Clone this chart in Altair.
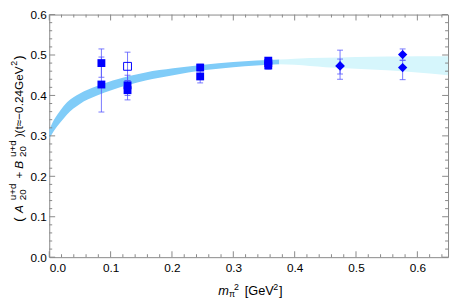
import altair as alt
import pandas as pd

# ---- data ----
band_dark_x = [0.0, 0.003, 0.0075, 0.018, 0.029, 0.05, 0.077, 0.1035, 0.157, 0.202, 0.251, 0.3, 0.375]
band_dark_lo = [0.293, 0.301, 0.312, 0.333, 0.353, 0.379, 0.399, 0.414, 0.437, 0.450, 0.462, 0.470, 0.477]
band_dark_hi = [0.315, 0.325, 0.339, 0.363, 0.383, 0.405, 0.423, 0.437, 0.457, 0.467, 0.476, 0.483, 0.489]

band_light_x = [0.375, 0.4, 0.45, 0.5, 0.55, 0.6, 0.65]
band_light_lo = [0.477, 0.476, 0.470, 0.466, 0.462, 0.457, 0.450]
band_light_hi = [0.489, 0.491, 0.493, 0.495, 0.496, 0.497, 0.497]

sq_x = [0.085, 0.085, 0.1276, 0.1276, 0.246, 0.246, 0.357, 0.357, 0.357]
sq_y = [0.480, 0.427, 0.425, 0.413, 0.469, 0.447, 0.486, 0.480, 0.474]
sq_lo = [0.445, 0.359, 0.400, 0.389, 0.461, 0.431, 0.479, 0.472, 0.465]
sq_hi = [0.515, 0.495, 0.450, 0.437, 0.477, 0.463, 0.493, 0.488, 0.483]

open_x = [0.1276]
open_y = [0.472]
open_lo = [0.437]
open_hi = [0.507]

dia_x = [0.474, 0.474, 0.576, 0.576]
dia_y = [0.473, 0.473, 0.501, 0.469]
dia_lo = [0.453, 0.440, 0.487, 0.439]
dia_hi = [0.490, 0.512, 0.515, 0.487]

x_major = [0.0, 0.1, 0.2, 0.3, 0.4, 0.5, 0.6]
y_major = [0.0, 0.1, 0.2, 0.3, 0.4, 0.5, 0.6]
x_minor = [round(0.02 * i, 2) for i in range(1, 33) if i % 5 != 0]
y_minor = [round(0.02 * i, 2) for i in range(1, 30) if i % 5 != 0]

W, H = 406, 247
FONT = "Liberation Sans"
BLUE = "#0000FF"

xs = alt.Scale(domain=[0, 0.65], nice=False, zero=False)
ys = alt.Scale(domain=[0, 0.6], nice=False, zero=False)

dark = pd.DataFrame({"x": band_dark_x, "lo": band_dark_lo, "hi": band_dark_hi})
light = pd.DataFrame({"x": band_light_x, "lo": band_light_lo, "hi": band_light_hi})
sq = pd.DataFrame({"x": sq_x, "y": sq_y, "lo": sq_lo, "hi": sq_hi})
op = pd.DataFrame({"x": open_x, "y": open_y, "lo": open_lo, "hi": open_hi})
dia = pd.DataFrame({"x": dia_x, "y": dia_y, "lo": dia_lo, "hi": dia_hi})
allpts = pd.concat([sq, op, dia], ignore_index=True)

xaxis = alt.Axis(values=x_major, format=".1f", ticks=False, domain=False, grid=False,
                 labelFont=FONT, labelFontSize=12, labelColor="black", labelPadding=6,
                 title=None)
yaxis = alt.Axis(values=y_major, format=".1f", ticks=False, domain=False, grid=False,
                 labelFont=FONT, labelFontSize=12, labelColor="black", labelPadding=3,
                 title=None)


def X(f):
    return alt.X(f, scale=xs, axis=xaxis)


def Y(f):
    return alt.Y(f, scale=ys, axis=yaxis)


dark_band = alt.Chart(dark).mark_area(color="#80CCF8", opacity=1, interpolate="monotone").encode(
    x=X("x:Q"), y=Y("hi:Q"), y2="lo:Q",
)
light_band = alt.Chart(light).mark_area(color="#D6F6FC", opacity=1, interpolate="monotone").encode(
    x=X("x:Q"), y=Y("hi:Q"), y2="lo:Q",
)

ERR = "#5555FF"
err = alt.Chart(allpts).mark_rule(color=ERR, strokeWidth=1, opacity=0.8).encode(
    x=X("x:Q"), y=Y("lo:Q"), y2="hi:Q",
)
cap_hi = alt.Chart(allpts).mark_tick(color=ERR, orient="horizontal", size=6, thickness=1, opacity=0.8).encode(
    x=X("x:Q"), y=Y("hi:Q"),
)
cap_lo = alt.Chart(allpts).mark_tick(color=ERR, orient="horizontal", size=6, thickness=1, opacity=0.8).encode(
    x=X("x:Q"), y=Y("lo:Q"),
)

sq_pts = alt.Chart(sq).mark_point(shape="square", filled=True, color=BLUE, size=64, opacity=1).encode(
    x=X("x:Q"), y=Y("y:Q"),
)
op_pts = alt.Chart(op).mark_point(shape="square", filled=False, color=BLUE, size=64, strokeWidth=1, opacity=1).encode(
    x=X("x:Q"), y=Y("y:Q"),
)
dia_pts = alt.Chart(dia).mark_point(shape="diamond", filled=True, color=BLUE, size=90, opacity=1).encode(
    x=X("x:Q"), y=Y("y:Q"),
)

TICK = "#888888"


def xticks(vals, ln):
    d = pd.DataFrame({"v": vals})
    b = alt.Chart(d).mark_rule(color=TICK, strokeWidth=1).encode(
        x=X("v:Q"), y=alt.value(H), y2=alt.value(H - ln))
    t = alt.Chart(d).mark_rule(color=TICK, strokeWidth=1).encode(
        x=X("v:Q"), y=alt.value(0), y2=alt.value(ln))
    return [b, t]


def yticks(vals, ln):
    d = pd.DataFrame({"v": vals})
    l = alt.Chart(d).mark_rule(color=TICK, strokeWidth=1).encode(
        y=Y("v:Q"), x=alt.value(0), x2=alt.value(ln))
    r = alt.Chart(d).mark_rule(color=TICK, strokeWidth=1).encode(
        y=Y("v:Q"), x=alt.value(W), x2=alt.value(W - ln))
    return [l, r]


tick_layers = xticks(x_major, 6) + xticks(x_minor, 3) + yticks(y_major, 6) + yticks(y_minor, 3)

dummy = pd.DataFrame({"a": [0]})


def txt(s, x, y, size=12, italic=False, angle=0, dx=0, dy=0):
    kw = dict(text=s, font=FONT, fontSize=size, color="black", align="left",
              baseline="alphabetic", dx=dx, dy=dy)
    if italic:
        kw["fontStyle"] = "italic"
    if angle:
        kw["angle"] = angle
    return alt.Chart(dummy).mark_text(**kw).encode(x=alt.value(x), y=alt.value(y))


# x title: m_pi^2 [GeV^2]
xt_y = H + 38
x_title = [
    txt("m", 172, xt_y, size=13, italic=True),
    txt("π", 183, xt_y, size=9, dy=3),
    txt("2", 188, xt_y, size=9, dy=-5),
    txt("[GeV", 199, xt_y, size=13),
    txt("2", 228, xt_y, size=9, dy=-5),
    txt("]", 234, xt_y, size=13),
]

# y title: (A_20^{u+d} + B_20^{u+d})(t≈−0.24GeV^2), rotated
ax, ay = -27, 211
y_title = [
    txt("(", ax, ay, size=13, angle=270, dx=0),
    txt("A", ax, ay, angle=270, dx=9, italic=True),
    txt("20", ax, ay, size=10, angle=270, dx=22, dy=3),
    txt("u+d", ax, ay, size=10, angle=270, dx=22, dy=-7),
    txt("+", ax, ay, angle=270, dx=44),
    txt("B", ax, ay, angle=270, dx=54, italic=True),
    txt("20", ax, ay, size=10, angle=270, dx=66, dy=3),
    txt("u+d", ax, ay, size=10, angle=270, dx=66, dy=-7),
    txt(")(t≈−0.24GeV", ax, ay, angle=270, dx=86),
    txt("2", ax, ay, size=9, angle=270, dx=159, dy=-6),
    txt(")", ax, ay, size=13, angle=270, dx=165),
]

chart = alt.layer(
    dark_band, light_band, *tick_layers, err, cap_hi, cap_lo, sq_pts, op_pts, dia_pts,
    *x_title, *y_title
).properties(
    width=W, height=H,
    autosize=alt.AutoSizeParams(type="none"),
    padding={"left": 42, "top": 4, "right": 2, "bottom": 46},
).configure_view(stroke="#888888", strokeWidth=1)

chart.save("out.html", embed_options={"renderer": "svg", "actions": False})
